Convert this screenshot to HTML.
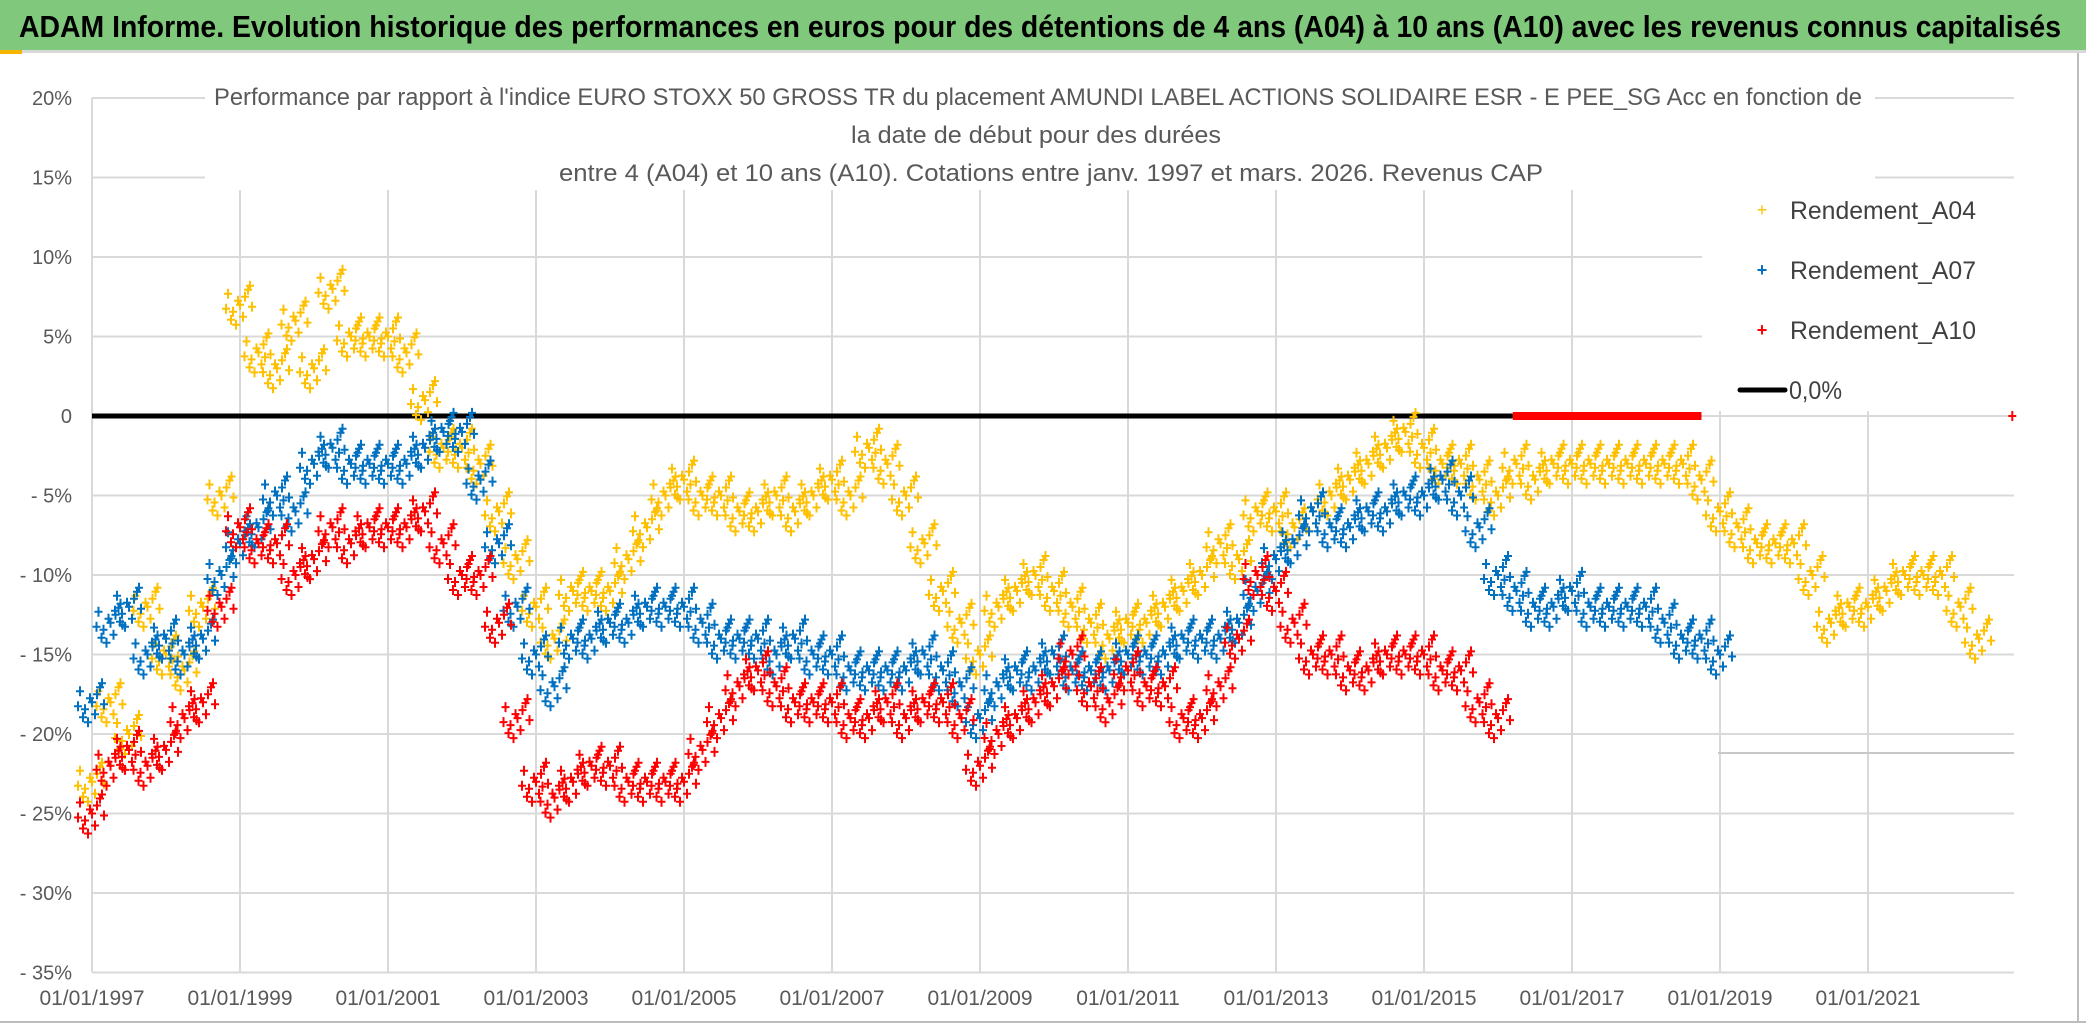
<!DOCTYPE html>
<html><head><meta charset="utf-8"><style>
html,body{margin:0;padding:0;background:#fff;}
svg{display:block;font-family:"Liberation Sans",sans-serif;}
</style></head><body>
<svg id="chart" width="2086" height="1031" viewBox="0 0 2086 1031">
<rect x="0" y="0" width="2086" height="1031" fill="#fff"/>
<rect x="0" y="0" width="2086" height="50" fill="#80c87b"/>
<rect x="0" y="50" width="2086" height="3" fill="#d8d8d8"/>
<rect x="0" y="50" width="22" height="4" fill="#f4b400"/>
<text x="19" y="37" font-size="31" font-weight="bold" fill="#000" textLength="2042" lengthAdjust="spacingAndGlyphs">ADAM Informe. Evolution historique des performances en euros pour des détentions de 4 ans (A04) à 10 ans (A10) avec les revenus connus capitalisés</text>
<line x1="2078" y1="53" x2="2078" y2="1022" stroke="#bdbdbd" stroke-width="2"/>
<line x1="0" y1="1022" x2="2086" y2="1022" stroke="#bdbdbd" stroke-width="2"/>
<g id="grid"></g>
<g id="marks"></g>
<g id="axes"></g>
<rect x="205" y="75" width="1670" height="115" fill="#fff"/>
<g font-size="24" fill="#595959" text-anchor="middle">
<text x="1038" y="105" textLength="1648" lengthAdjust="spacingAndGlyphs">Performance par rapport à l'indice EURO STOXX 50 GROSS TR  du placement AMUNDI LABEL ACTIONS SOLIDAIRE ESR - E PEE_SG Acc en fonction de</text>
<text x="1036" y="143" textLength="370" lengthAdjust="spacingAndGlyphs">la date de début pour des durées</text>
<text x="1051" y="181" textLength="984" lengthAdjust="spacingAndGlyphs">entre 4 (A04) et 10 ans (A10). Cotations entre janv. 1997 et mars. 2026. Revenus CAP</text>
</g>
<g id="legend">
<rect x="1702" y="186" width="312" height="225" fill="#fff"/>
<g><text x="1762" y="216" font-size="18" fill="#ffc000" text-anchor="middle">+</text><text x="1790" y="219" font-size="25" fill="#404040" textLength="186" lengthAdjust="spacingAndGlyphs">Rendement_A04</text></g>
<g><text x="1762" y="276" font-size="18" fill="#0070c0" font-weight="bold" text-anchor="middle">+</text><text x="1790" y="279" font-size="25" fill="#404040" textLength="186" lengthAdjust="spacingAndGlyphs">Rendement_A07</text></g>
<g><text x="1762" y="336" font-size="18" fill="#ff0000" font-weight="bold" text-anchor="middle">+</text><text x="1790" y="339" font-size="25" fill="#404040" textLength="186" lengthAdjust="spacingAndGlyphs">Rendement_A10</text></g>
<g><line x1="1740" y1="390" x2="1785" y2="390" stroke="#000" stroke-width="5" stroke-linecap="round"/><text x="1789" y="399" font-size="25" fill="#404040" textLength="53" lengthAdjust="spacingAndGlyphs">0,0%</text></g>
</g>
</svg>
<script>
const yTicks = [20,15,10,5,0,-5,-10,-15,-20,-25,-30,-35];
const yTickLabels = ["20%","15%","10%","5%","0","-5%","-10%","-15%","-20%","-25%","-30%","-35%"];
const xTicks = [1997,1999,2001,2003,2005,2007,2009,2011,2013,2015,2017,2019,2021];
const xTickLabels = ["01/01/1997","01/01/1999","01/01/2001","01/01/2003","01/01/2005","01/01/2007","01/01/2009","01/01/2011","01/01/2013","01/01/2015","01/01/2017","01/01/2019","01/01/2021"];
const startA04 = 1997, startA07 = 1997, startA10 = 1997;
const stepYears = 0.25;
const a04 = [-23,-18,-20,-12,-15,-16,-12,-5,7,4,3,6,3,8,5,5,5,4,1,-2,-2,-3,-6,-9,-12,-14,-11,-11,-11,-9,-7,-5,-4,-5,-5,-6,-6,-5,-6,-5,-4,-5,-2,-3,-5,-8,-11,-13,-15,-12,-11,-10,-11,-12,-13,-14,-13,-13,-12,-11,-10,-8,-9,-6,-6,-7,-6,-5,-4,-3,-2,-1,-2,-3,-3,-4,-5,-3,-4,-3,-3,-3,-3,-3,-3,-3,-3,-4,-6,-7,-8,-8,-8,-10,-13,-12,-12,-11,-10,-10,-10,-12,-14];
const a07 = [-18,-13,-12,-15,-14,-15,-14,-10,-8,-7,-5,-6,-3,-2,-3,-3,-3,-3,-2,-1,-1,-4,-8,-12,-15,-17,-14,-14,-13,-13,-12,-12,-12,-13,-14,-14,-14,-15,-14,-15,-15,-16,-16,-16,-16,-15,-16,-17,-19,-17,-16,-16,-15,-16,-16,-16,-15,-15,-15,-14,-14,-14,-13,-11,-9,-8,-6,-7,-7,-6,-6,-5,-5,-4,-5,-7,-10,-11,-12,-12,-11,-12,-12,-12,-12,-13,-14,-14,-15];
const a10 = [-25,-22,-21,-22,-21,-19,-18,-12,-7,-8,-8,-10,-9,-7,-8,-7,-7,-7,-6,-8,-10,-10,-13,-19,-23,-24,-23,-22,-22,-23,-23,-23,-23,-21,-19,-17,-16,-17,-18,-18,-18,-19,-19,-18,-19,-18,-18,-19,-22,-20,-19,-18,-17,-15,-17,-18,-16,-17,-17,-19,-19,-17,-14,-10,-11,-13,-15,-15,-16,-16,-15,-15,-15,-16,-16,-18,-19];
const a10ZeroStart = 2016.2, a10ZeroEnd = 2018.75, a10LastDate = 2022.95, a10LastValue = 0;
const zeroLineEnd = 2016.2;

const NS="http://www.w3.org/2000/svg";
const X0=92, Y20=98, PX_PER_YEAR=74, PX_PER_PCT=15.9, XRIGHT=2014, YBOT=972;
function xs(d){return X0+(d-1997)*PX_PER_YEAR;}
function ys(v){return Y20+(20-v)*PX_PER_PCT;}
function mk(tag,attrs,parent){const e=document.createElementNS(NS,tag);for(const k in attrs)e.setAttribute(k,attrs[k]);parent.appendChild(e);return e;}
const grid=document.getElementById('grid'), axes=document.getElementById('axes'), marks=document.getElementById('marks');
yTicks.forEach((t,i)=>{
  const l=mk('line',{x1:X0,x2:XRIGHT,y1:ys(t),y2:ys(t),stroke:'#d9d9d9','stroke-width':2},grid);
  
  
  const tx=mk('text',{x:72,y:ys(t)+7,'font-size':20,fill:'#595959','text-anchor':'end'},axes);
  tx.textContent=yTickLabels[i].replace('-','- ');
  
  
});
xTicks.forEach((t,i)=>{
  const l=mk('line',{x1:xs(t),x2:xs(t),y1:Y20,y2:YBOT,stroke:'#d9d9d9','stroke-width':2},grid);
  
  
  const tx=mk('text',{x:xs(t),y:1005,'font-size':21,fill:'#595959','text-anchor':'middle'},axes);
  tx.textContent=xTickLabels[i];
  
  
});
const stray=mk('line',{x1:1718,x2:XRIGHT,y1:753,y2:753,stroke:'#c8c8c8','stroke-width':2},grid);


const zl=mk('line',{x1:X0,x2:xs(zeroLineEnd),y1:ys(0),y2:ys(0),stroke:'#000','stroke-width':5},marks);


const DX=[-12,-7,-2,3,8,12,-9,5,-4,10,0,-14], DY=[-11,7,-4,12,-15,2,15,-8,20,-19,0,4];
function plus(x,y,color,g){
  mk('path',{d:`M${x-4} ${y}h8M${x} ${y-5}v10`,stroke:color,'stroke-width':2,fill:'none'},g);
}
function series(arr,start,color,name){
  const g=mk('g',{},marks);
  
  
  arr.forEach((v,i)=>{
    const x=xs(start+i*stepYears), y=ys(v);
    for(let k=0;k<DX.length;k++) plus(x+DX[k],y+DY[k],color,g);
  });
}
series(a04,startA04,'#ffc000','series-a04');
series(a07,startA07,'#0070c0','series-a07');
series(a10,startA10,'#ff0000','series-a10');
const zr=mk('rect',{x:xs(a10ZeroStart),y:ys(0)-4,width:xs(a10ZeroEnd)-xs(a10ZeroStart),height:8,fill:'#ff0000'},marks);


const lastG=mk('g',{},marks);


plus(xs(a10LastDate),ys(a10LastValue),'#ff0000',lastG);
</script>
</body></html>
